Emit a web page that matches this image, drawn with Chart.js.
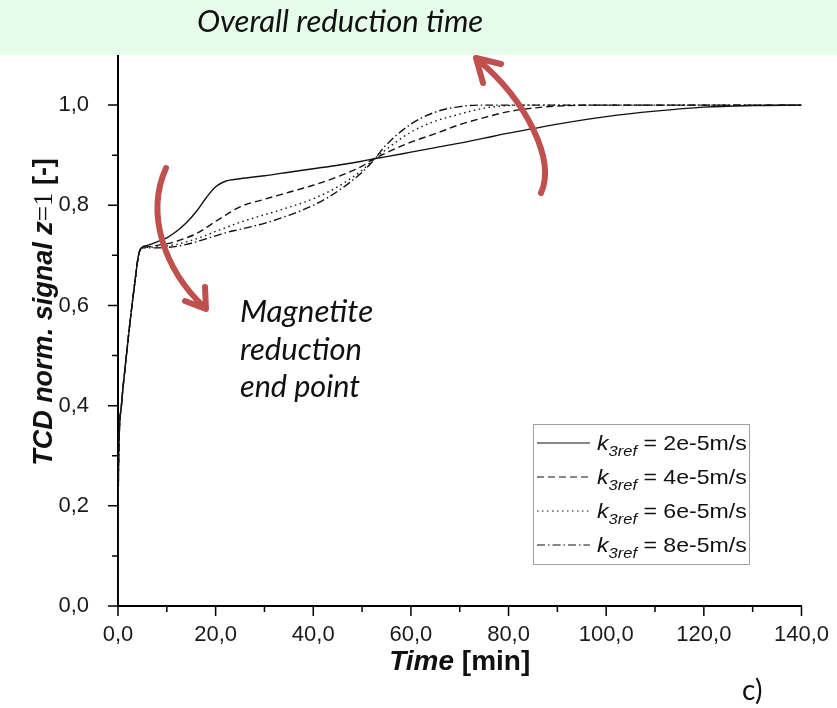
<!DOCTYPE html>
<html>
<head>
<meta charset="utf-8">
<script src="https://cdn.jsdelivr.net/npm/chart.js@4.4.1/dist/chart.umd.min.js"></script>
<style>
  body { margin: 0; background: #fff; }
  #wrap { width: 837px; height: 708px; position: relative; }
</style>
</head>
<body>
<div id="wrap"><canvas id="tcdChart"></canvas></div>
<script>
// time axis (min), shared by all four curves
const timeMin = [0, 0.05, 0.15, 0.7, 1.5, 2.5, 3.5, 4.2, 4.8,
  6, 8, 10, 12, 14, 16, 18, 20, 22, 25, 30, 35, 40, 45, 50, 52, 55,
  60, 65, 70, 75, 80, 85, 90, 100, 110, 120, 130, 140];

// first part is the same for every k3ref
const startPart = [0, 0.2, 0.3, 0.4, 0.48, 0.57, 0.65, 0.7, 0.715];

const k2e5 = startPart.concat([0.72, 0.727, 0.735, 0.748, 0.765, 0.787, 0.814, 0.837, 0.848, 0.853,
  0.859, 0.866, 0.873, 0.88, 0.888, 0.892, 0.897, 0.906, 0.915, 0.924, 0.934, 0.944, 0.953, 0.962,
  0.977, 0.988, 0.996, 0.999, 1.0]);
const k4e5 = startPart.concat([0.717, 0.72, 0.723, 0.728, 0.735, 0.743, 0.755, 0.768, 0.78, 0.797,
  0.812, 0.826, 0.84, 0.857, 0.878, 0.89, 0.905, 0.926, 0.943, 0.961, 0.975, 0.987, 0.994, 0.998,
  1.0, 1.0, 1.0, 1.0, 1.0]);
const k6e5 = startPart.concat([0.716, 0.717, 0.719, 0.722, 0.727, 0.733, 0.74, 0.748, 0.755, 0.766,
  0.781, 0.796, 0.813, 0.837, 0.87, 0.888, 0.912, 0.946, 0.968, 0.982, 0.994, 0.999, 1.0, 1.0,
  1.0, 1.0, 1.0, 1.0, 1.0]);
const k8e5 = startPart.concat([0.715, 0.715, 0.716, 0.718, 0.722, 0.727, 0.733, 0.739, 0.745, 0.752,
  0.764, 0.78, 0.8, 0.828, 0.866, 0.886, 0.921, 0.962, 0.986, 0.997, 1.0, 1.0, 1.0, 1.0,
  1.0, 1.0, 1.0, 1.0, 1.0]);

const seriesNames = ["2e-5m/s", "4e-5m/s", "6e-5m/s", "8e-5m/s"];
const xMajor = [0, 20, 40, 60, 80, 100, 120, 140];
const xMinor = [10, 30, 50, 70, 90, 110, 130];
const yMajor = [0, 0.2, 0.4, 0.6, 0.8, 1.0];
const yMinor = [0.1, 0.3, 0.5, 0.7, 0.9];

const lineColor = "#111";
const dashes = [[], [7, 4], [1.5, 3.5], [8, 3, 1.5, 3]];

function toPoints(ys) {
  return timeMin.map((t, i) => ({ x: t, y: ys[i] }));
}

const allSeries = [k2e5, k4e5, k6e5, k8e5];
const datasets = allSeries.map((ys, i) => ({
  label: seriesNames[i],
  data: toPoints(ys),
  borderColor: lineColor,
  borderWidth: 1.4,
  borderDash: dashes[i],
  pointRadius: 0,
  fill: false,
  cubicInterpolationMode: "monotone"
}));

// draw a row of text pieces with different fonts, centred on x
function drawRuns(ctx, runs, x, y) {
  let total = 0;
  runs.forEach(r => { ctx.font = r.font; total += ctx.measureText(r.text).width; });
  let cx = x - total / 2;
  runs.forEach(r => {
    ctx.font = r.font;
    ctx.fillText(r.text, cx, y);
    cx += ctx.measureText(r.text).width;
  });
}

// text fitted to a given width
function fitText(ctx, text, family, style, width, x, y, align) {
  ctx.font = style + " 30px " + family;
  const size = 30 * width / ctx.measureText(text).width;
  ctx.font = style + " " + size.toFixed(1) + "px " + family;
  ctx.textAlign = align;
  ctx.fillText(text, x, y);
}

function arrowHead(ctx, a, tip, b) {
  ctx.beginPath();
  ctx.moveTo(a[0], a[1]);
  ctx.lineTo(tip[0], tip[1]);
  ctx.lineTo(b[0], b[1]);
  ctx.stroke();
}

const decorPlugin = {
  id: "decor",
  afterDraw(chart) {
    const ctx = chart.ctx;
    const xs = chart.scales.x;
    const ys = chart.scales.y;
    const area = chart.chartArea;
    ctx.save();

    // tick marks, major and minor
    ctx.strokeStyle = "#000";
    ctx.lineWidth = 1.5;
    ctx.beginPath();
    xMajor.forEach(v => { const p = xs.getPixelForValue(v); ctx.moveTo(p, area.bottom); ctx.lineTo(p, area.bottom + 10); });
    xMinor.forEach(v => { const p = xs.getPixelForValue(v); ctx.moveTo(p, area.bottom); ctx.lineTo(p, area.bottom + 6); });
    yMajor.forEach(v => { const p = ys.getPixelForValue(v); ctx.moveTo(area.left, p); ctx.lineTo(area.left - 10, p); });
    yMinor.forEach(v => { const p = ys.getPixelForValue(v); ctx.moveTo(area.left, p); ctx.lineTo(area.left - 6, p); });
    ctx.stroke();

    // axis titles
    ctx.fillStyle = "#111";
    ctx.textAlign = "left";
    ctx.textBaseline = "middle";
    drawRuns(ctx, [
      { text: "Time", font: "italic bold 28px 'Liberation Sans'" },
      { text: " [min]", font: "bold 28px 'Liberation Sans'" }
    ], (area.left + area.right) / 2, 662);

    ctx.save();
    ctx.translate(45, 312);
    ctx.rotate(-Math.PI / 2);
    drawRuns(ctx, [
      { text: "TCD norm. signal ", font: "italic bold 27px 'Liberation Sans'" },
      { text: "z", font: "italic bold 27px 'Liberation Sans'" },
      { text: "=1", font: "27px 'Liberation Serif'" },
      { text: " [-]", font: "bold 27px 'Liberation Sans'" }
    ], 0, 0);
    ctx.restore();

    // legend box
    ctx.strokeStyle = "#a0a0a0";
    ctx.lineWidth = 1;
    ctx.strokeRect(533.5, 424.5, 216, 140);
    chart.data.datasets.forEach((ds, i) => {
      const y = 443 + i * 34;
      ctx.strokeStyle = ds.borderColor;
      ctx.lineWidth = 1.2;
      ctx.setLineDash(ds.borderDash);
      ctx.beginPath();
      ctx.moveTo(537, y);
      ctx.lineTo(590, y);
      ctx.stroke();
      ctx.setLineDash([]);
      ctx.save();
      ctx.translate(597, y);
      ctx.scale(1.1, 1);
      ctx.fillStyle = "#111";
      ctx.textAlign = "left";
      ctx.textBaseline = "alphabetic";
      ctx.font = "italic 21px 'Liberation Sans'";
      ctx.fillText("k", 0, 7);
      let cx = ctx.measureText("k").width;
      ctx.font = "italic 15px 'Liberation Sans'";
      ctx.fillText("3ref", cx, 13);
      cx += ctx.measureText("3ref").width;
      ctx.font = "21px 'Liberation Sans'";
      ctx.fillText(" = " + ds.label, cx, 7);
      ctx.restore();
    });

    // text notes
    ctx.fillStyle = "#111";
    ctx.textBaseline = "middle";
    fitText(ctx, "Magnetite", "Lato", "italic", 133, 240, 312, "left");
    fitText(ctx, "reduction", "Lato", "italic", 122, 240, 350, "left");
    fitText(ctx, "end point", "Lato", "italic", 120, 240, 387, "left");
    ctx.font = "28px Lato";
    ctx.textAlign = "left";
    ctx.fillText("c)", 742, 691);

    // red arrows
    ctx.strokeStyle = "#c0504d";
    ctx.lineWidth = 6;
    ctx.lineCap = "round";
    ctx.lineJoin = "round";
    ctx.beginPath();
    ctx.moveTo(166, 168);
    ctx.bezierCurveTo(145, 215, 165, 270, 204, 307);
    ctx.stroke();
    arrowHead(ctx, [185, 301], [206, 309], [205, 287]);

    // top band
    ctx.fillStyle = "#e6fbea";
    ctx.fillRect(0, 0, chart.width, 55);
    ctx.fillStyle = "#111";
    fitText(ctx, "Overall reduction time", "Lato", "italic", 286, 197, 22, "left");

    ctx.strokeStyle = "#c0504d";
    ctx.lineWidth = 6;
    ctx.beginPath();
    ctx.moveTo(541, 193);
    ctx.bezierCurveTo(556, 160, 526, 100, 478, 60);
    ctx.stroke();
    arrowHead(ctx, [483, 83], [476, 58], [501, 64]);

    ctx.restore();
  }
};

const fmt = v => Number(v).toFixed(1).replace(".", ",");

new Chart(document.getElementById("tcdChart"), {
  type: "line",
  data: { datasets: datasets },
  options: {
    responsive: true,
    maintainAspectRatio: false,
    animation: false,
    layout: { padding: { top: 55, right: 34, left: 0, bottom: 0 } },
    plugins: { legend: { display: false }, tooltip: { enabled: false } },
    scales: {
      x: {
        type: "linear",
        min: 0,
        max: 140,
        grid: { display: false },
        border: { display: true, color: "#000", width: 2 },
        afterBuildTicks: s => { s.ticks = xMajor.map(v => ({ value: v })); },
        afterFit: s => { s.height = 102; },
        ticks: {
          autoSkip: false,
          maxRotation: 0,
          padding: 8,
          color: "#1a1a1a",
          font: { family: "Liberation Sans", size: 22 },
          callback: fmt
        }
      },
      y: {
        type: "linear",
        min: 0,
        max: 1.1,
        grid: { display: false },
        border: { display: true, color: "#000", width: 2 },
        afterBuildTicks: s => { s.ticks = yMajor.map(v => ({ value: v })); },
        afterFit: s => { s.width = 118; },
        ticks: {
          padding: 21,
          color: "#1a1a1a",
          font: { family: "Liberation Sans", size: 22 },
          callback: fmt
        }
      }
    }
  },
  plugins: [decorPlugin]
});
</script>
</body>
</html>
